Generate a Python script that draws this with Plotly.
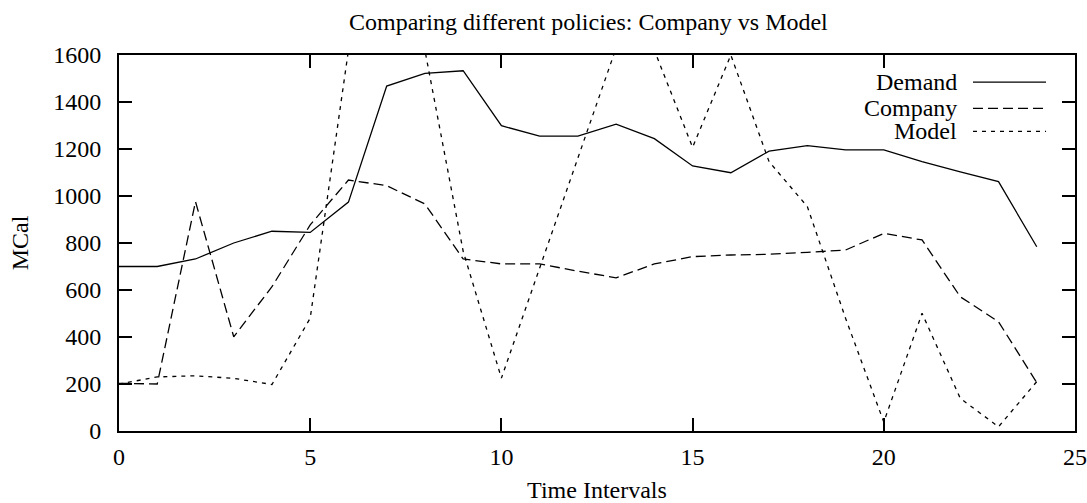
import plotly.graph_objects as go

x_vals = list(range(25))
demand = [700, 700, 732, 800, 850, 845, 974, 1468, 1522, 1533, 1299, 1255, 1255, 1306, 1244,
          1128, 1099, 1191, 1214, 1196, 1196, 1146, 1103, 1061, 784]
company = [203, 200, 976, 401, 614, 877, 1068, 1044, 966, 732, 711, 711, 680, 652, 711,
           742, 749, 752, 760, 770, 841, 813, 571, 465, 206]
model = [200, 230, 235, 224, 198, 480, 1620, 1900, 1620, 765, 225, 694, 1162, 1630, 1620,
         1207, 1600, 1146, 955, 480, 38, 501, 139, 18, 210]

series_names = ["Demand", "Company", "Model"]
series_dash = ["solid", "10px,5px", "4px,5px"]
series_data = [demand, company, model]

x_ticks = [0, 5, 10, 15, 20, 25]
y_ticks = [0, 200, 400, 600, 800, 1000, 1200, 1400, 1600]

FONT = "Liberation Serif, Times New Roman, serif"
FS = 24

fig = go.Figure()
for name, dash, vals in zip(series_names, series_dash, series_data):
    fig.add_trace(go.Scatter(x=x_vals, y=vals, mode="lines", name=name,
                             line=dict(color="black", width=1.3, dash=dash),
                             showlegend=False))

# gnuplot-style key: right-aligned text with line sample on the right
key_y = [0.928, 0.858, 0.797]
for name, dash, ky in zip(series_names, series_dash, key_y):
    fig.add_annotation(xref="paper", yref="paper", x=0.8775, y=ky, text=name,
                       showarrow=False, xanchor="right", yanchor="middle",
                       borderpad=0,
                       font=dict(family=FONT, size=FS, color="black"))
    fig.add_shape(type="line", xref="paper", yref="paper", x0=0.8933, x1=0.9697,
                  y0=ky, y1=ky, line=dict(color="black", width=1.3, dash=dash))

axis_common = dict(showline=True, linecolor="black", linewidth=2, mirror="ticks",
                   ticks="inside", tickcolor="black", tickwidth=2, ticklen=13,
                   showgrid=False, zeroline=False, automargin=False,
                   tickfont=dict(family=FONT, size=FS, color="black"))

fig.update_layout(
    width=1087, height=503,
    margin=dict(l=119, r=12, t=55, b=72),
    paper_bgcolor="white", plot_bgcolor="white",
    title=dict(text="Comparing different policies: Company vs Model",
               x=0.491, xref="paper", xanchor="center", y=0.957, yanchor="middle",
               font=dict(family=FONT, size=FS, color="black")),
    xaxis=dict(range=[0, 25], tickvals=x_ticks, ticklabelstandoff=3,
               title=dict(text="Time Intervals", standoff=18,
                          font=dict(family=FONT, size=FS, color="black")),
               **axis_common),
    yaxis=dict(range=[0, 1600], tickvals=y_ticks, ticklabelstandoff=11,
               title=dict(text="MCal", standoff=18,
                          font=dict(family=FONT, size=FS, color="black")),
               **axis_common),
)

fig.write_html("out.html", config={"displayModeBar": False},
               post_script="document.body.style.margin='0';")
